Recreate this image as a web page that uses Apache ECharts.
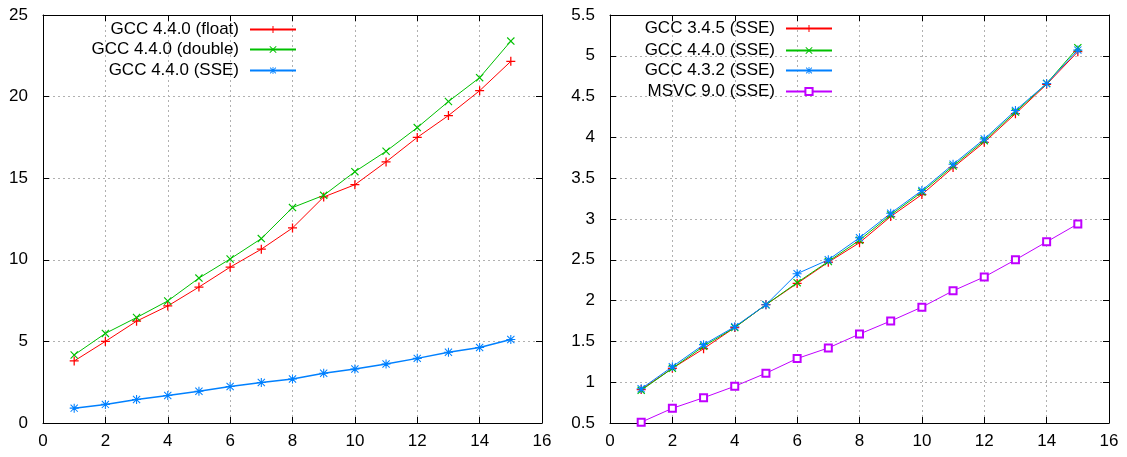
<!DOCTYPE html>
<html>
<head>
<meta charset="utf-8">
<title>gcc benchmark</title>
<script src="https://cdn.jsdelivr.net/npm/echarts@6/dist/echarts.min.js"></script>
<style>
  html, body { margin: 0; padding: 0; background: #fff; }
  #chart { width: 1127px; height: 457px; }
</style>
</head>
<body>
<div id="chart"></div>
<script>
// x positions shared by every series
var xs = [1, 2, 3, 4, 5, 6, 7, 8, 9, 10, 11, 12, 13, 14, 15];

// left panel
var leftNames = ['GCC 4.4.0 (float)', 'GCC 4.4.0 (double)', 'GCC 4.4.0 (SSE)'];
var gccFloat  = [3.8, 5.0, 6.24, 7.17, 8.33, 9.55, 10.65, 11.95, 13.85, 14.6, 16.0, 17.5, 18.84, 20.36, 22.16];
var gccDouble = [4.17, 5.49, 6.46, 7.48, 8.88, 10.05, 11.3, 13.2, 13.95, 15.4, 16.65, 18.1, 19.7, 21.16, 23.4];
var gccSse    = [0.91, 1.14, 1.44, 1.69, 1.95, 2.24, 2.48, 2.7, 3.05, 3.31, 3.62, 3.96, 4.33, 4.63, 5.12];

// right panel
var rightNames = ['GCC 3.4.5 (SSE)', 'GCC 4.4.0 (SSE)', 'GCC 4.3.2 (SSE)', 'MSVC 9.0 (SSE)'];
var gcc345 = [0.91, 1.17, 1.41, 1.67, 1.95, 2.21, 2.47, 2.71, 3.03, 3.30, 3.63, 3.94, 4.29, 4.65, 5.05];
var gcc440 = [0.90, 1.17, 1.44, 1.67, 1.95, 2.22, 2.48, 2.74, 3.05, 3.33, 3.65, 3.96, 4.31, 4.66, 5.10];
var gcc432 = [0.92, 1.19, 1.46, 1.68, 1.95, 2.33, 2.50, 2.77, 3.07, 3.35, 3.67, 3.98, 4.33, 4.66, 5.07];
var msvc90 = [0.51, 0.68, 0.81, 0.95, 1.11, 1.29, 1.42, 1.59, 1.75, 1.92, 2.12, 2.29, 2.50, 2.72, 2.94];

// gnuplot-like point shapes
var PLUS  = 'path://M4.3,0H5.7V4.3H10V5.7H5.7V10H4.3V5.7H0V4.3H4.3Z';
var CROSS = 'path://M0,1L1,0L5,4L9,0L10,1L6,5L10,9L9,10L5,6L1,10L0,9L4,5Z';
var STAR  = 'path://M4.4,0H5.6V4.4H10V5.6H5.6V10H4.4V5.6H0V4.4H4.4Z' +
            'M0.6,1.4L1.4,0.6L5,4.2L8.6,0.6L9.4,1.4L5.8,5L9.4,8.6L8.6,9.4L5,5.8L1.4,9.4L0.6,8.6L4.2,5Z';

var RED = '#ff0000', GREEN = '#00c000', BLUE = '#0080ff', MAGENTA = '#c000ff';
var FONT = 'Liberation Sans, Arial, sans-serif';

function pairs(ys) {
  return xs.map(function (x, i) { return [x, ys[i]]; });
}

// series ids carry a panel prefix so the two "GCC 4.4.0 (SSE)" entries stay apart
function mkSeries(prefix, name, ys, axis, color, symbol, size, width) {
  var hollow = symbol === 'emptyRect';
  return {
    type: 'line', name: prefix + name, data: pairs(ys),
    xAxisIndex: axis, yAxisIndex: axis,
    symbol: symbol, symbolSize: size,
    color: color,
    itemStyle: { color: color, borderColor: color, borderWidth: hollow ? 1.2 : 0 },
    lineStyle: { color: color, width: width || 1 },
    emphasis: { disabled: true },
    silent: true
  };
}

function xAxes(grid, top) {
  return {
    gridIndex: grid, type: 'value', min: 0, max: 16, interval: 2,
    position: top ? 'top' : 'bottom',
    axisLine: { show: true, onZero: false, lineStyle: { color: '#000', width: 1 } },
    axisTick: { show: true, inside: true, length: 6, lineStyle: { color: '#000' } },
    axisLabel: { show: !top, color: '#000', fontSize: 17, fontFamily: FONT, margin: 10 },
    splitLine: { show: !top, lineStyle: { color: '#b0b0b0', type: [2, 3], width: 1 } }
  };
}

function yAxes(grid, right, min, max, step) {
  return {
    gridIndex: grid, type: 'value', min: min, max: max, interval: step,
    position: right ? 'right' : 'left',
    axisLine: { show: true, onZero: false, lineStyle: { color: '#000', width: 1 } },
    axisTick: { show: true, inside: true, length: 6, lineStyle: { color: '#000' } },
    axisLabel: { show: !right, color: '#000', fontSize: 17, fontFamily: FONT, margin: 15 },
    splitLine: { show: !right, lineStyle: { color: '#b0b0b0', type: [2, 3], width: 1 } }
  };
}

function mkLegend(name, right, top, thick) {
  var lg = {
    data: [name], right: right, top: top, padding: 0,
    align: 'right', orient: 'horizontal', selectedMode: false,
    itemWidth: 46, itemHeight: 9,
    formatter: function (n) { return n.slice(2); },
    textStyle: { color: '#000', fontSize: 17, fontFamily: FONT, padding: [0, 6, 0, 0] }
  };
  if (thick) lg.lineStyle = { width: 2 };
  return lg;
}

var legends = [];
var leftTops = [21, 41, 62], leftThick = [false, true, false];
leftNames.forEach(function (n, i) {
  legends.push(mkLegend('L:' + n, 830, leftTops[i], leftThick[i]));
});
var rightTops = [20, 42, 62, 83], rightThick = [false, true, false, true];
rightNames.forEach(function (n, i) {
  legends.push(mkLegend('R:' + n, 294, rightTops[i], rightThick[i]));
});

var option = {
  animation: false,
  backgroundColor: '#fff',
  legend: legends,
  grid: [
    { left: 43, top: 15, width: 499, height: 408 },
    { left: 610, top: 15, width: 499, height: 408 }
  ],
  xAxis: [xAxes(0, false), xAxes(0, true), xAxes(1, false), xAxes(1, true)],
  yAxis: [
    yAxes(0, false, 0, 25, 5), yAxes(0, true, 0, 25, 5),
    yAxes(1, false, 0.5, 5.5, 0.5), yAxes(1, true, 0.5, 5.5, 0.5)
  ],
  series: [
    mkSeries('L:', leftNames[0], gccFloat, 0, RED, PLUS, 9),
    mkSeries('L:', leftNames[1], gccDouble, 0, GREEN, CROSS, 8),
    mkSeries('L:', leftNames[2], gccSse, 0, BLUE, STAR, 9, 1.5),
    mkSeries('R:', rightNames[0], gcc345, 2, RED, PLUS, 9),
    mkSeries('R:', rightNames[1], gcc440, 2, GREEN, CROSS, 8),
    mkSeries('R:', rightNames[2], gcc432, 2, BLUE, STAR, 9),
    mkSeries('R:', rightNames[3], msvc90, 2, MAGENTA, 'emptyRect', 7)
  ]
};

var chart = echarts.init(document.getElementById('chart'));
chart.setOption(option);
</script>
</body>
</html>
